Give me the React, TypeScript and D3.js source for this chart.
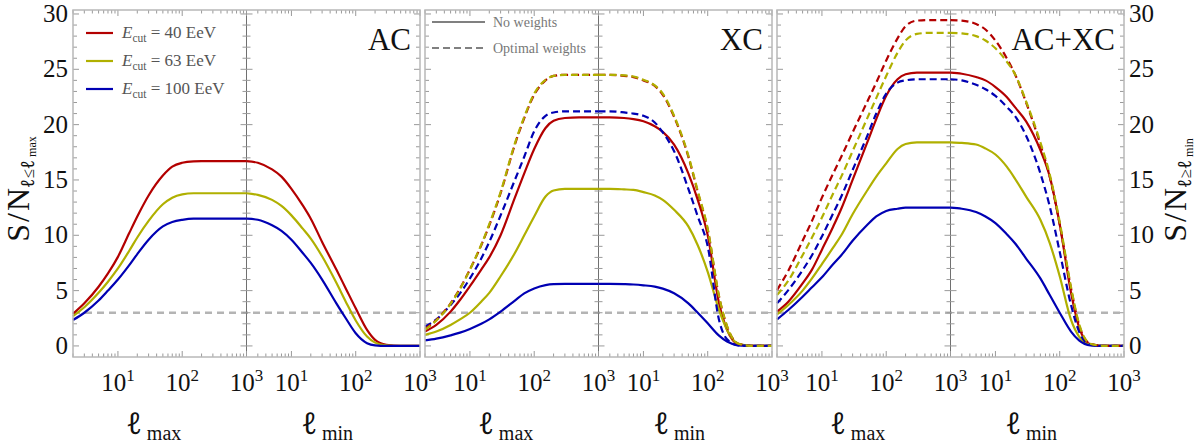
import React from "react"
import * as d3 from "d3"

// multipole samples shared by every curve (each half runs from ℓ = 2 to 1000)
const ELL = [2, 3, 5, 7, 10, 15, 20, 30, 50, 70, 100, 150, 200, 300, 500, 700, 1000]

// AC panel, no weights
const AC_MAX_40 = [2.9, 3.85, 5.35, 6.55, 8.05, 10.2, 11.7, 13.6, 15.4, 16.2, 16.55, 16.68, 16.7, 16.7, 16.7, 16.7, 16.7]
const AC_MAX_63 = [2.7, 3.5, 4.8, 5.8, 7.0, 8.6, 9.8, 11.3, 12.8, 13.4, 13.7, 13.8, 13.8, 13.8, 13.8, 13.8, 13.8]
const AC_MAX_100 = [2.35, 3.0, 4.1, 5.0, 6.0, 7.3, 8.3, 9.6, 10.8, 11.2, 11.4, 11.5, 11.5, 11.5, 11.5, 11.5, 11.5]
const AC_MIN_40 = [16.7, 16.55, 15.95, 15.3, 14.2, 12.7, 11.5, 9.4, 6.9, 5.2, 3.4, 1.45, 0.55, 0.1, 0, 0, 0]
const AC_MIN_63 = [13.8, 13.65, 13.2, 12.65, 11.8, 10.6, 9.7, 8.1, 5.7, 4.0, 2.3, 0.85, 0.3, 0.05, 0, 0, 0]
const AC_MIN_100 = [11.5, 11.4, 10.9, 10.4, 9.6, 8.4, 7.5, 6.0, 3.85, 2.5, 1.15, 0.25, 0.05, 0, 0, 0, 0]

// XC panel, no weights
const XC_MAX_40 = [1.3, 1.9, 3.1, 4.15, 5.4, 6.9, 8.0, 10.0, 13.4, 15.6, 17.8, 19.7, 20.35, 20.6, 20.65, 20.65, 20.65]
const XC_MAX_63 = [1.0, 1.3, 1.9, 2.4, 3.0, 4.0, 4.8, 6.3, 8.4, 10.0, 11.7, 13.5, 14.05, 14.2, 14.2, 14.2, 14.2]
const XC_MAX_100 = [0.5, 0.66, 0.96, 1.2, 1.54, 2.0, 2.4, 3.1, 4.1, 4.75, 5.2, 5.5, 5.58, 5.6, 5.6, 5.6, 5.6]
const XC_MIN_40 = [20.65, 20.65, 20.6, 20.5, 20.3, 19.85, 19.35, 18.2, 15.6, 13.2, 10.0, 3.85, 1.45, 0.15, 0, 0, 0]
const XC_MIN_63 = [14.2, 14.2, 14.15, 14.1, 13.9, 13.6, 13.2, 12.3, 10.8, 9.1, 6.7, 3.25, 1.45, 0.2, 0, 0, 0]
const XC_MIN_100 = [5.6, 5.6, 5.58, 5.55, 5.48, 5.36, 5.18, 4.76, 3.85, 3.0, 2.05, 0.93, 0.4, 0.05, 0, 0, 0]

// XC panel, optimal weights
const XC_MAX_40_OPT = [1.55, 2.35, 3.85, 5.2, 6.9, 9.1, 10.9, 13.8, 18.2, 20.6, 22.7, 24.0, 24.4, 24.5, 24.5, 24.5, 24.5]
const XC_MAX_63_OPT = [1.45, 2.3, 3.8, 5.15, 6.9, 9.15, 11.0, 13.9, 18.3, 20.7, 22.8, 24.05, 24.4, 24.5, 24.5, 24.5, 24.5]
const XC_MAX_100_OPT = [1.75, 2.4, 3.7, 4.75, 6.1, 7.9, 9.4, 11.8, 15.0, 17.1, 19.4, 20.8, 21.1, 21.2, 21.2, 21.2, 21.2]
const XC_MIN_40_OPT = [24.5, 24.5, 24.4, 24.3, 24.0, 23.5, 22.7, 20.7, 17.1, 13.9, 10.5, 4.45, 1.75, 0.2, 0, 0, 0]
const XC_MIN_63_OPT = [24.5, 24.5, 24.45, 24.35, 24.05, 23.55, 22.8, 20.8, 17.2, 14.0, 10.6, 4.5, 1.8, 0.2, 0, 0, 0]
const XC_MIN_100_OPT = [21.2, 21.2, 21.1, 21.0, 20.8, 20.2, 19.3, 17.6, 14.2, 11.7, 9.0, 2.35, 0.6, 0.05, 0, 0, 0]

// AC+XC panel, no weights
const ACXC_MAX_40 = [3.1, 4.0, 5.65, 6.9, 8.7, 10.8, 12.4, 15.0, 18.3, 20.5, 22.6, 24.1, 24.55, 24.7, 24.7, 24.7, 24.7]
const ACXC_MAX_63 = [2.85, 3.7, 5.0, 6.1, 7.4, 8.9, 10.0, 11.9, 14.0, 15.3, 16.5, 17.8, 18.25, 18.4, 18.4, 18.4, 18.4]
const ACXC_MAX_100 = [2.4, 3.25, 4.45, 5.3, 6.2, 7.4, 8.2, 9.5, 10.9, 11.7, 12.2, 12.4, 12.5, 12.5, 12.5, 12.5, 12.5]
const ACXC_MIN_40 = [24.7, 24.6, 24.3, 24.0, 23.4, 22.5, 21.6, 20.3, 17.7, 15.3, 11.0, 4.8, 1.7, 0.15, 0, 0, 0]
const ACXC_MIN_63 = [18.4, 18.35, 18.2, 17.85, 17.3, 16.2, 15.15, 13.5, 11.4, 9.3, 6.3, 2.35, 0.85, 0.1, 0, 0, 0]
const ACXC_MIN_100 = [12.5, 12.4, 12.1, 11.7, 11.1, 10.1, 9.3, 7.9, 6.1, 4.6, 3.0, 1.3, 0.5, 0.05, 0, 0, 0]

// AC+XC panel, optimal weights
const ACXC_MAX_40_OPT = [5.05, 6.8, 9.5, 11.3, 13.4, 15.6, 17.1, 19.3, 22.0, 23.8, 25.8, 27.8, 28.9, 29.4, 29.45, 29.45, 29.45]
const ACXC_MAX_63_OPT = [4.6, 5.9, 8.2, 9.8, 11.6, 13.8, 15.3, 17.6, 20.5, 22.4, 24.4, 26.5, 27.6, 28.2, 28.3, 28.3, 28.3]
const ACXC_MAX_100_OPT = [3.85, 5.05, 6.85, 8.2, 9.9, 12.0, 13.5, 15.9, 18.9, 21.0, 22.8, 23.8, 24.0, 24.1, 24.1, 24.1, 24.1]
const ACXC_MIN_40_OPT = [29.45, 29.4, 29.1, 28.6, 27.6, 26.0, 24.6, 22.0, 18.2, 15.3, 11.0, 5.2, 1.9, 0.2, 0, 0, 0]
const ACXC_MIN_63_OPT = [28.3, 28.25, 28.0, 27.6, 26.9, 25.7, 24.6, 22.1, 18.4, 15.5, 11.2, 5.3, 2.0, 0.2, 0, 0, 0]
const ACXC_MIN_100_OPT = [24.1, 24.0, 23.6, 23.2, 22.6, 21.6, 20.8, 19.0, 15.6, 12.6, 8.5, 3.7, 1.3, 0.1, 0, 0, 0]

const Y_TICKS = [0, 5, 10, 15, 20, 25, 30]
const X_DECADES = [1, 2, 3]
const THRESHOLD = 3
const ENERGIES = ["40", "63", "100"]
const PANEL_TITLES = ["AC", "XC", "AC+XC"]

const COLORS = ["#b30000", "#b0b000", "#0000b3"]
const SERIF: React.CSSProperties = { fontFamily: '"Liberation Serif", "DejaVu Serif", "Times New Roman", serif' }
// thin looped script ell
const ELL_STYLE: React.CSSProperties = { fontFamily: '"Noto Sans", "DejaVu Sans", sans-serif', fontStyle: "italic", fontWeight: 400 }

const W = 1200
const H = 446
const PANEL_X = [73, 425, 777]
const PANEL_W = 347
const TOP = 10
const BOTTOM = 357

type Series = { color: string; dashed: boolean; max: number[]; min: number[] }

const PANEL_SERIES: Series[][] = [
  [
    { color: COLORS[0], dashed: false, max: AC_MAX_40, min: AC_MIN_40 },
    { color: COLORS[1], dashed: false, max: AC_MAX_63, min: AC_MIN_63 },
    { color: COLORS[2], dashed: false, max: AC_MAX_100, min: AC_MIN_100 },
  ],
  [
    { color: COLORS[0], dashed: false, max: XC_MAX_40, min: XC_MIN_40 },
    { color: COLORS[1], dashed: false, max: XC_MAX_63, min: XC_MIN_63 },
    { color: COLORS[2], dashed: false, max: XC_MAX_100, min: XC_MIN_100 },
    { color: COLORS[2], dashed: true, max: XC_MAX_100_OPT, min: XC_MIN_100_OPT },
    { color: COLORS[0], dashed: true, max: XC_MAX_40_OPT, min: XC_MIN_40_OPT },
    { color: COLORS[1], dashed: true, max: XC_MAX_63_OPT, min: XC_MIN_63_OPT },
  ],
  [
    { color: COLORS[0], dashed: false, max: ACXC_MAX_40, min: ACXC_MIN_40 },
    { color: COLORS[1], dashed: false, max: ACXC_MAX_63, min: ACXC_MIN_63 },
    { color: COLORS[2], dashed: false, max: ACXC_MAX_100, min: ACXC_MIN_100 },
    { color: COLORS[2], dashed: true, max: ACXC_MAX_100_OPT, min: ACXC_MIN_100_OPT },
    { color: COLORS[0], dashed: true, max: ACXC_MAX_40_OPT, min: ACXC_MIN_40_OPT },
    { color: COLORS[1], dashed: true, max: ACXC_MAX_63_OPT, min: ACXC_MIN_63_OPT },
  ],
]

const y = d3.scaleLinear().domain([-1, 30.36]).range([BOTTOM, TOP])
const yMinor = d3.range(0, 31)

function halves(x0: number) {
  const half = PANEL_W / 2
  return [
    d3.scaleLog().domain([2, 1000]).range([x0, x0 + half]),
    d3.scaleLog().domain([2, 1000]).range([x0 + half, x0 + PANEL_W]),
  ]
}

const isDecade = (t: number) => Math.abs(Math.log10(t) - Math.round(Math.log10(t))) < 1e-9

function Panel({ index }: { index: number }) {
  const x0 = PANEL_X[index]
  const x1 = x0 + PANEL_W
  const [xMax, xMin] = halves(x0)
  const xMid = xMax.range()[1]
  const lineFor = (xs: d3.ScaleLogarithmic<number, number>) =>
    d3
      .line<number>()
      .x((_, i) => xs(ELL[i]))
      .y((d) => y(d))
      .curve(d3.curveMonotoneX)
  const lineMax = lineFor(xMax)
  const lineMin = lineFor(xMin)
  const tickColor = "#9a9a9a"

  return (
    <g>
      {/* threshold */}
      <line x1={x0} x2={x1} y1={y(THRESHOLD)} y2={y(THRESHOLD)} stroke="#b4b4b4" strokeWidth={2.4} strokeDasharray="7,5" />
      {/* divider between the two halves */}
      <line x1={xMid} x2={xMid} y1={TOP} y2={BOTTOM} stroke="#707070" strokeWidth={1} />

      {/* y ticks on the frame edges and the divider */}
      {yMinor.map((v) => {
        const len = v % 5 === 0 ? 6 : 4
        return (
          <g key={`yt${v}`} stroke={tickColor} strokeWidth={1}>
            <line x1={x0} x2={x0 + len} y1={y(v)} y2={y(v)} />
            <line x1={x1 - len} x2={x1} y1={y(v)} y2={y(v)} />
            <line x1={xMid - len} x2={xMid + len} y1={y(v)} y2={y(v)} />
          </g>
        )
      })}

      {/* x ticks, bottom and top */}
      {[xMax, xMin].map((xs, h) =>
        xs.ticks().map((t) => {
          const len = isDecade(t) ? 6 : 3.5
          return (
            <g key={`xt${h}-${t}`} stroke={tickColor} strokeWidth={1}>
              <line x1={xs(t)} x2={xs(t)} y1={BOTTOM} y2={BOTTOM - len} />
              <line x1={xs(t)} x2={xs(t)} y1={TOP} y2={TOP + len} />
            </g>
          )
        })
      )}

      {/* curves */}
      {PANEL_SERIES[index].map((s, i) => (
        <g key={`s${i}`} fill="none" stroke={s.color} strokeWidth={2.2} strokeDasharray={s.dashed ? "7,4" : undefined}>
          <path d={lineMax(s.max) ?? ""} />
          <path d={lineMin(s.min) ?? ""} />
        </g>
      ))}

      {/* frame */}
      <rect x={x0} y={TOP} width={PANEL_W} height={BOTTOM - TOP} fill="none" stroke="#b8b8b8" strokeWidth={1.5} />

      {/* decade labels */}
      {[xMax, xMin].map((xs, h) =>
        X_DECADES.map((p) => (
          <text key={`xl${h}-${p}`} x={xs(Math.pow(10, p))} y={391} textAnchor="middle" style={SERIF} fontSize={25} fill="#111">
            10
            <tspan fontSize={17} dy={-10}>{p}</tspan>
          </text>
        ))
      )}

      {/* axis names under each half */}
      {[
        { xs: xMax, sub: "max" },
        { xs: xMin, sub: "min" },
      ].map(({ xs, sub }) => {
        const [a, b] = xs.range()
        return (
          <text key={sub} x={(a + b) / 2 - 6} y={434} textAnchor="middle" fill="#111">
            <tspan style={ELL_STYLE} fontSize={30}>ℓ</tspan>
            <tspan style={SERIF} fontSize={20} dx={5} dy={6}>{sub}</tspan>
          </text>
        )
      })}

      {/* panel title */}
      <text x={x1 - 9} y={50} textAnchor="end" style={SERIF} fontSize={31} fill="#111">
        {PANEL_TITLES[index]}
      </text>
    </g>
  )
}

function AxisTitle({ x, cy, rel, sub }: { x: number; cy: number; rel: string; sub: string }) {
  return (
    <text transform={`translate(${x},${cy}) rotate(-90)`} textAnchor="middle" fill="#111" style={SERIF}>
      <tspan fontSize={32}>S</tspan>
      <tspan fontSize={32} dx={2}>/</tspan>
      <tspan fontSize={32} dx={2}>N</tspan>
      <tspan style={ELL_STYLE} fontSize={18} dy={5}>ℓ</tspan>
      <tspan fontSize={17}>{rel}</tspan>
      <tspan style={ELL_STYLE} fontSize={18}>ℓ</tspan>
      <tspan fontSize={12} dx={3} dy={2}>{sub}</tspan>
    </text>
  )
}

export default function App() {
  return (
    <div style={{ position: "absolute", left: 0, top: 0 }}>
      <svg width={W} height={H} style={{ display: "block", background: "#fff" }}>
        {PANEL_X.map((_, i) => (
          <Panel key={i} index={i} />
        ))}

        {/* y tick labels, left and right */}
        {Y_TICKS.map((v) => (
          <g key={`yl${v}`} style={SERIF} fontSize={25} fill="#111">
            <text x={68} y={y(v) + 8} textAnchor="end">{v}</text>
            <text x={1129} y={y(v) + 8} textAnchor="start">{v}</text>
          </g>
        ))}

        {/* y axis titles */}
        <AxisTitle x={29} cy={189} rel="≤" sub="max" />
        <AxisTitle x={1186} cy={190} rel="≥" sub="min" />

        {/* energy legend (AC panel) */}
        {ENERGIES.map((e, i) => (
          <g key={`lg${e}`}>
            <line x1={86} x2={113} y1={33 + 28 * i} y2={33 + 28 * i} stroke={COLORS[i]} strokeWidth={2.2} />
            <text x={122} y={38 + 28 * i} style={SERIF} fontSize={17} fill="#555">
              <tspan fontStyle="italic">E</tspan>
              <tspan fontSize={11.5} dy={4}>cut</tspan>
              <tspan dy={-4}>{` = ${e} EeV`}</tspan>
            </text>
          </g>
        ))}

        {/* weighting legend (XC panel) */}
        <line x1={432} x2={485} y1={22} y2={22} stroke="#808080" strokeWidth={2.2} />
        <line x1={432} x2={485} y1={48} y2={48} stroke="#808080" strokeWidth={2.2} strokeDasharray="7,4" />
        <text x={493} y={27} style={SERIF} fontSize={14} fill="#777">No weights</text>
        <text x={493} y={53} style={SERIF} fontSize={14} fill="#777">Optimal weights</text>
      </svg>
    </div>
  )
}
